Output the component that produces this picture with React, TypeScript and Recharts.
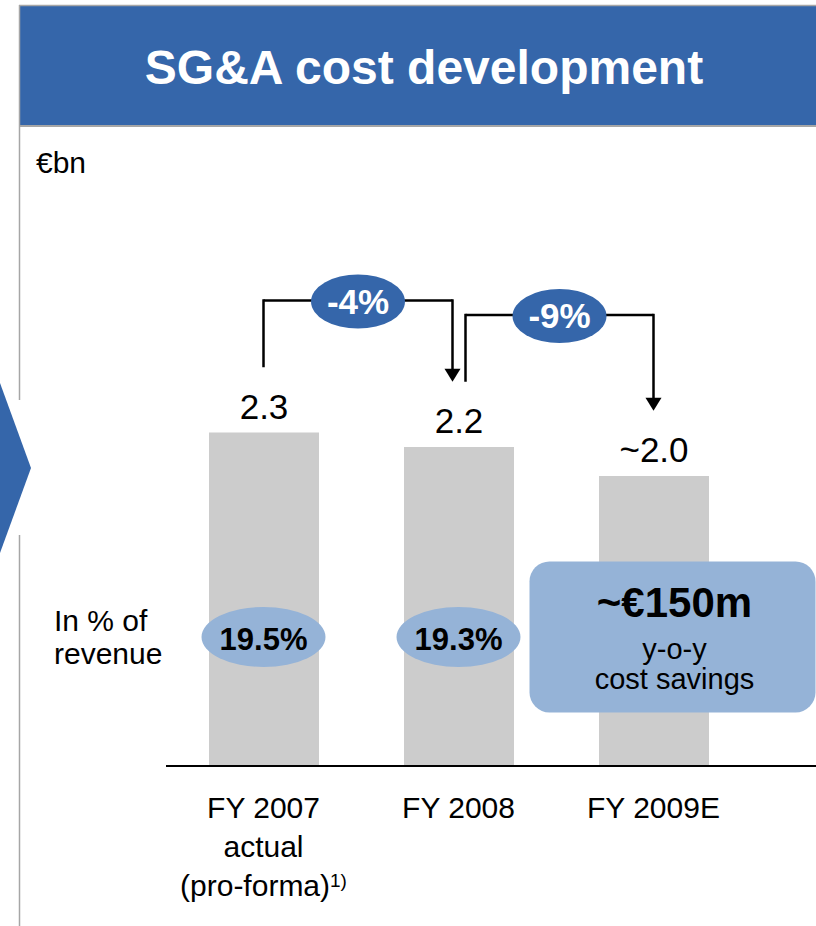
import React from "react";
import {
  BarChart,
  Bar,
  XAxis,
  YAxis,
  LabelList,
  ReferenceLine,
  ReferenceDot,
} from "recharts";

// values (€bn)
const categories = ["FY 2007", "FY 2008", "FY 2009E"];
const sgaCost = [2.3, 2.2, 2.0];
const valueLabels = ["2.3", "2.2", "~2.0"];
const categorySubLines = [["actual", "(pro-forma)"], [], []];
const footnoteMarks = ["1)", "", ""];
const revenueShare = ["19.5%", "19.3%"];
const changeLabels = ["-4%", "-9%"];
const savingsHeadline = "~€150m";
const savingsLines = ["y-o-y", "cost savings"];

const W = 816;
const H = 926;
const BLUE = "#3566AA";
const LIGHT_BLUE = "#95B3D7";
const BAR_GREY = "#CCCCCC";
const FRAME_GREY = "#A6A6A6";
const FONT = "'Liberation Sans', Arial, Helvetica, sans-serif";

// annotation levels, in data units above the bars
const ARROW_GAP = 0.45;
const BRACKET_RISE = 0.91;
const SHARE_LEVEL = 0.89;

const rows = categories.map((name, i) => ({
  name,
  value: sgaCost[i],
  label: valueLabels[i],
}));

const brackets = changeLabels.map((label, i) => ({
  label,
  from: categories[i],
  to: categories[i + 1],
  start: sgaCost[i] + ARROW_GAP,
  end: sgaCost[i + 1] + ARROW_GAP,
  top: sgaCost[i] + BRACKET_RISE,
  fromDx: i > 0 ? 7 : 0,
  toDx: i + 1 < categories.length - 1 ? -6 : 0,
}));

function CategoryTick(props: any) {
  const { x, y, payload } = props;
  const i = categories.indexOf(payload.value);
  const sub = categorySubLines[i] || [];
  return (
    <g fontFamily={FONT} fontSize={30} fill="#000">
      <text x={x} y={y + 52} textAnchor="middle">
        {payload.value}
      </text>
      {sub.map((line, k) => (
        <text key={k} x={x} y={y + 91 + k * 39} textAnchor="middle">
          <tspan>{line}</tspan>
          {k === sub.length - 1 && footnoteMarks[i] ? (
            <tspan dy={-9} fontSize={19}>
              {footnoteMarks[i]}
            </tspan>
          ) : null}
        </text>
      ))}
    </g>
  );
}

function Frame() {
  return (
    <svg
      width={W}
      height={H}
      style={{ position: "absolute", left: 0, top: 0 }}
    >
      <rect x={20} y={6} width={W - 20} height={119} fill={BLUE} />
      <line x1={19} y1={5.5} x2={W} y2={5.5} stroke={FRAME_GREY} strokeWidth={1.5} />
      <line x1={19} y1={126} x2={W} y2={126} stroke={FRAME_GREY} strokeWidth={2} />
      <line x1={19.5} y1={5} x2={19.5} y2={400} stroke={FRAME_GREY} strokeWidth={1.5} />
      <line x1={19.5} y1={535} x2={19.5} y2={H} stroke={FRAME_GREY} strokeWidth={1.5} />
      <polygon points="0,383 31,468 0,553" fill={BLUE} />
      <text
        x={424}
        y={84}
        textAnchor="middle"
        fill="#fff"
        fontFamily={FONT}
        fontWeight="bold"
        fontSize={48}
      >
        SG&amp;A cost development
      </text>
      <text x={36} y={173} fontFamily={FONT} fontSize={30} fill="#000">
        €bn
      </text>
      <text fontFamily={FONT} fontSize={30} fill="#000">
        <tspan x={54} y={631}>
          In % of
        </tspan>
        <tspan x={54} y={664}>
          revenue
        </tspan>
      </text>
    </svg>
  );
}

export default function App() {
  return (
    <div
      style={{
        position: "absolute",
        left: 0,
        top: 0,
        width: W,
        height: H,
        background: "#fff",
        fontFamily: FONT,
      }}
    >
      <Frame />
      <div style={{ position: "absolute", left: 0, top: 0 }}>
        <BarChart
          width={W}
          height={H}
          data={rows}
          margin={{ top: 186, right: 0, bottom: 20, left: 166 }}
          barCategoryGap={0}
        >
          <XAxis
            dataKey="name"
            height={140}
            padding={{ left: 0, right: 65 }}
            axisLine={{ stroke: "#000", strokeWidth: 2 }}
            tickLine={false}
            tickSize={0}
            tickMargin={0}
            tick={<CategoryTick />}
            interval={0}
          />
          <YAxis hide domain={[0, 4]} />
          <Bar dataKey="value" fill={BAR_GREY} barSize={110} isAnimationActive={false}>
            <LabelList
              dataKey="label"
              position="top"
              offset={14}
              fill="#000"
              fontSize={35}
              fontFamily={FONT}
            />
          </Bar>

          {brackets.map((b, i) => (
            <ReferenceLine
              key={`l${i}`}
              segment={[
                { x: b.from, y: b.start },
                { x: b.from, y: b.top },
              ]}
              shape={(p: any) => (
                <line
                  x1={p.x1 + b.fromDx}
                  y1={p.y1}
                  x2={p.x2 + b.fromDx}
                  y2={p.y2 - 1.25}
                  stroke="#000"
                  strokeWidth={2.5}
                />
              )}
            />
          ))}
          {brackets.map((b, i) => (
            <ReferenceLine
              key={`r${i}`}
              segment={[
                { x: b.to, y: b.top },
                { x: b.to, y: b.end },
              ]}
              shape={(p: any) => {
                const x = p.x1 + b.toDx;
                return (
                  <g>
                    <line
                      x1={x}
                      y1={p.y1 - 1.25}
                      x2={x}
                      y2={p.y2 - 12}
                      stroke="#000"
                      strokeWidth={2.5}
                    />
                    <polygon
                      points={`${x - 8},${p.y2 - 13} ${x + 8},${p.y2 - 13} ${x},${p.y2}`}
                      fill="#000"
                    />
                  </g>
                );
              }}
            />
          ))}
          {brackets.map((b, i) => (
            <ReferenceLine
              key={`t${i}`}
              segment={[
                { x: b.from, y: b.top },
                { x: b.to, y: b.top },
              ]}
              shape={(p: any) => {
                const xa = p.x1 + b.fromDx;
                const xb = p.x2 + b.toDx;
                const cx = (xa + xb) / 2;
                return (
                  <g>
                    <line x1={xa} y1={p.y1} x2={xb} y2={p.y2} stroke="#000" strokeWidth={2.5} />
                    <ellipse cx={cx} cy={p.y1 + 1} rx={47} ry={27} fill={BLUE} />
                    <text
                      x={cx}
                      y={p.y1 + 13}
                      textAnchor="middle"
                      fill="#fff"
                      fontFamily={FONT}
                      fontWeight="bold"
                      fontSize={35}
                    >
                      {b.label}
                    </text>
                  </g>
                );
              }}
            />
          ))}

          {revenueShare.map((share, i) => (
            <ReferenceDot
              key={`s${i}`}
              x={categories[i]}
              y={SHARE_LEVEL}
              shape={(p: any) => (
                <g>
                  <ellipse cx={p.cx} cy={p.cy} rx={62} ry={30} fill={LIGHT_BLUE} />
                  <text
                    x={p.cx}
                    y={p.cy + 13}
                    textAnchor="middle"
                    fill="#000"
                    fontFamily={FONT}
                    fontWeight="bold"
                    fontSize={31}
                  >
                    {share}
                  </text>
                </g>
              )}
            />
          ))}
          <ReferenceDot
            x={categories[categories.length - 1]}
            y={SHARE_LEVEL}
            shape={(p: any) => (
              <g fontFamily={FONT} fill="#000" textAnchor="middle">
                <rect
                  x={p.cx - 124}
                  y={p.cy - 75.5}
                  width={286}
                  height={151}
                  rx={20}
                  fill={LIGHT_BLUE}
                />
                <text x={p.cx + 21} y={p.cy - 19.5} fontWeight="bold" fontSize={42}>
                  {savingsHeadline}
                </text>
                {savingsLines.map((line, k) => (
                  <text key={k} x={p.cx + 21} y={p.cy + 22.5 + k * 30} fontSize={29}>
                    {line}
                  </text>
                ))}
              </g>
            )}
          />
        </BarChart>
      </div>
    </div>
  );
}
